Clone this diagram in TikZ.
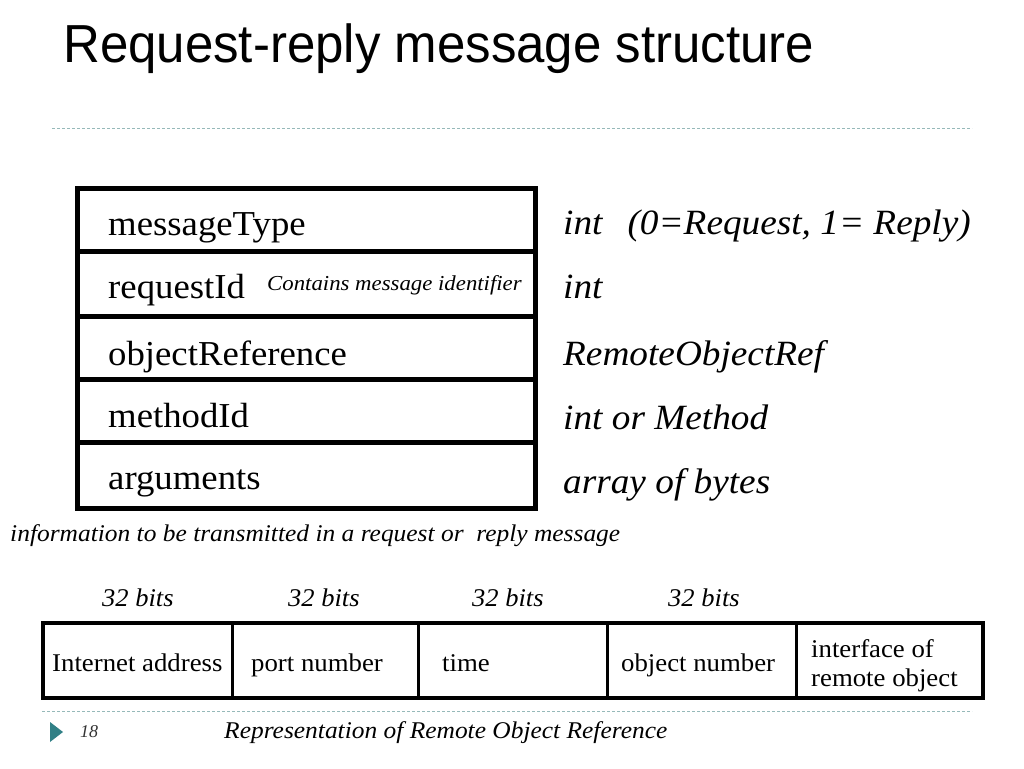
\documentclass[tikz,border=0pt]{standalone}
\usepackage{fontspec}
\setmainfont{Liberation Serif}
\newfontfamily\titlefont{Liberation Sans}
\definecolor{teal1}{RGB}{49,128,134}
\definecolor{dashc}{RGB}{150,185,185}
\begin{document}
\begin{tikzpicture}[x=1pt,y=-1pt,
  lbl/.style={anchor=base west,inner sep=0pt,xscale=1.05,font=\fontsize{35}{40}\selectfont},
  typ/.style={anchor=base west,inner sep=0pt,xscale=1.05,font=\fontsize{35.5}{40}\selectfont\itshape},
  cell/.style={anchor=base west,inner sep=0pt,xscale=1.05,font=\fontsize{25.5}{28}\selectfont},
  bits/.style={anchor=base west,inner sep=0pt,xscale=1.04,font=\fontsize{25.5}{28}\selectfont\itshape},
  sep/.style={dash pattern=on 3pt off 2pt,color=dashc,line width=1pt}]
\useasboundingbox (0,0) rectangle (1024,768);
\fill[white] (0,0) rectangle (1024,768);
% title
\node[anchor=base west,inner sep=0pt,yscale=1.05,font=\titlefont\fontsize{51}{56}\selectfont] (title) at (63,63) {Request-reply message structure};
\draw[sep] (52,128) -- (972,128);
% top table
\draw[line width=5pt] (77,188) rectangle (535,508);
\foreach \y in {251,316,379,442} \draw[line width=5pt] (77,\y) -- (535,\y);
\node[lbl] (mt) at (108,235) {messageType};
\node[lbl] (rid) at (108,298) {requestId};
\node[anchor=base west,inner sep=0pt,xscale=1.07,font=\fontsize{21.3}{24}\selectfont\itshape] (cmi) at (267,290) {Contains message identifier};
\node[lbl] (oref) at (108,365) {objectReference};
\node[lbl] (mid) at (108,427) {methodId};
\node[lbl] (args) at (108,489) {arguments};
\node[typ] (t1) at (563,234) {int\hspace{0.42em} (0=Request, 1= Reply)};
\node[typ] (t2) at (563,298) {int};
\node[typ] (t3) at (563,365) {RemoteObjectRef};
\node[typ] (t4) at (563,429) {int or Method};
\node[typ] (t5) at (563,493) {array of bytes};
\node[anchor=base west,inner sep=0pt,xscale=1.06,font=\fontsize{24}{28}\selectfont\itshape] (info) at (10,541) {information to be transmitted in a request or\ \ reply message};
% bits
\node[bits] (b1) at (102,606) {32 bits};
\node[bits] (b2) at (288,606) {32 bits};
\node[bits] (b3) at (472,606) {32 bits};
\node[bits] (b4) at (668,606) {32 bits};
% bottom table
\draw[line width=4pt] (43,623) rectangle (983,698);
\foreach \x in {232,418,607,796} \draw[line width=3pt] (\x,623) -- (\x,698);
\node[cell] (c1) at (52,671) {Internet address};
\node[cell] (c2) at (251,671) {port number};
\node[cell] (c3) at (442,671) {time};
\node[cell] (c4) at (621,671) {object number};
\node[cell] (c5a) at (811,657) {interface of};
\node[cell] (c5b) at (811,686) {remote object};
% footer
\draw[sep] (42,711) -- (972,711);
\fill[teal1] (50,722) -- (63,732) -- (50,742) -- cycle;
\node[anchor=base west,inner sep=0pt,font=\fontsize{18}{20}\selectfont\itshape,text=black!80] (pg) at (80,737) {18};
\node[anchor=base west,inner sep=0pt,xscale=1.06,font=\fontsize{24}{28}\selectfont\itshape] (cap) at (224,738) {Representation of Remote Object Reference};
\end{tikzpicture}
\end{document}
